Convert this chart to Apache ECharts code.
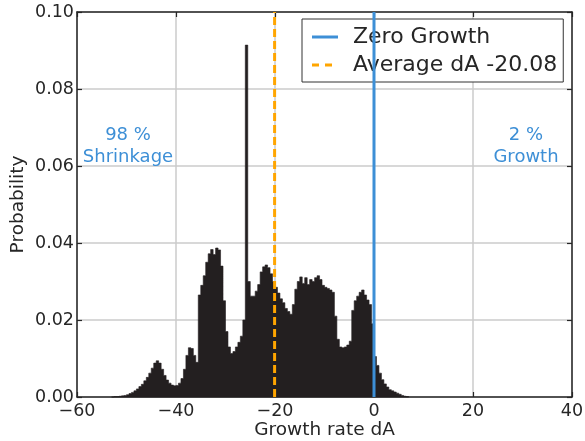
<!DOCTYPE html>
<html>
<head>
<meta charset="utf-8">
<script src="https://cdn.jsdelivr.net/npm/echarts@6/dist/echarts.min.js"></script>
<style>
  html, body { margin: 0; padding: 0; background: #fff; }
  #chart { width: 585px; height: 441px; }
</style>
</head>
<body>
<div id="chart"></div>
<script>
// Histogram of area growth rates: bins of width 0.5 starting at -53
const binStart = -53;
const binWidth = 0.5;
const probability = [
  0.0000, 0.0001, 0.0001, 0.0002, 0.0003, 0.0004, 0.0006, 0.0009, 0.0012, 0.0016,
  0.0021, 0.0027, 0.0033, 0.0042, 0.0051, 0.0062, 0.0075, 0.0088, 0.0094, 0.0088,
  0.0072, 0.0056, 0.0044, 0.0036, 0.0031, 0.0029, 0.0030, 0.0036, 0.0048, 0.0072,
  0.0108, 0.0128, 0.0126, 0.0108, 0.0090, 0.0265, 0.0290, 0.0315, 0.0350, 0.0372,
  0.0383, 0.0370, 0.0387, 0.0382, 0.0340, 0.0250, 0.0170, 0.0130, 0.0113, 0.0118,
  0.0130, 0.0142, 0.0158, 0.0200, 0.0914, 0.0300, 0.0262, 0.0262, 0.0275, 0.0292,
  0.0325, 0.0338, 0.0343, 0.0336, 0.0320, 0.0300, 0.0285, 0.0270, 0.0255, 0.0245,
  0.0230, 0.0222, 0.0215, 0.0240, 0.0280, 0.0300, 0.0312, 0.0295, 0.0310, 0.0292,
  0.0305, 0.0300, 0.0310, 0.0315, 0.0305, 0.0290, 0.0285, 0.0282, 0.0278, 0.0272,
  0.0210, 0.0150, 0.0130, 0.0128, 0.0130, 0.0135, 0.0145, 0.0225, 0.0250, 0.0262,
  0.0272, 0.0278, 0.0265, 0.0252, 0.0240, 0.0190, 0.0105, 0.0082, 0.0062, 0.0045,
  0.0034, 0.0026, 0.0019, 0.0016, 0.0013, 0.0010, 0.0007, 0.0004, 0.0002, 0.0001
];

// Reference lines
const zeroGrowth = 0;
const averageGrowth = -20.08;

// Axis ranges and ticks
const xTicks = [-60, -40, -20, 0, 20, 40];
const yTicks = [0.00, 0.02, 0.04, 0.06, 0.08, 0.10];

// Annotation texts
const shrinkText = '98 %\nShrinkage';
const growthText = '2 %\nGrowth';

const textColor = '#262626';
const blue = '#3d8fd6';
const orange = '#ffa500';
const barColor = '#231f20';
const font = 'DejaVu Sans';

// one row per bin: [left edge, right edge, probability]
const bins = probability.map((p, i) => [binStart + i * binWidth, binStart + (i + 1) * binWidth, p]);

const minus = v => String(v).replace('-', '\u2212');

const xBase = {
  type: 'value',
  min: xTicks[0],
  max: xTicks[xTicks.length - 1],
  interval: xTicks[1] - xTicks[0],
  axisLine: { show: true, onZero: false, lineStyle: { color: textColor, width: 1.5 } },
  axisTick: { show: true, inside: true, length: 5, lineStyle: { color: textColor, width: 1.2 } },
  splitLine: { show: false }
};
const yBase = {
  type: 'value',
  min: yTicks[0],
  max: yTicks[yTicks.length - 1],
  interval: yTicks[1] - yTicks[0],
  axisLine: { show: true, onZero: false, lineStyle: { color: textColor, width: 1.5 } },
  axisTick: { show: true, inside: true, length: 5, lineStyle: { color: textColor, width: 1.2 } },
  splitLine: { show: false }
};

// the whole histogram outline is traced as one filled polygon (drawn with the first item)
function renderHistogram(params, api) {
  if (params.dataIndex !== 0) return null;
  const pts = [api.coord([bins[0][0], 0])];
  bins.forEach(b => {
    pts.push(api.coord([b[0], b[2]]));
    pts.push(api.coord([b[1], b[2]]));
  });
  pts.push(api.coord([bins[bins.length - 1][1], 0]));
  return {
    type: 'polygon',
    shape: { points: pts },
    style: { fill: barColor, stroke: barColor, lineWidth: 0.6 }
  };
}

const option = {
  animation: false,
  backgroundColor: '#ffffff',
  textStyle: { fontFamily: font },
  grid: { left: 77, right: 13, top: 12, bottom: 44, containLabel: false, outerBoundsMode: 'none' },
  xAxis: [
    Object.assign({}, xBase, {
      position: 'bottom',
      name: 'Growth rate dA',
      nameLocation: 'middle',
      nameGap: 24,
      nameMoveOverlap: false,
      nameTextStyle: { fontSize: 18.5, color: textColor, fontFamily: font },
      axisLabel: { fontSize: 17.5, color: textColor, fontFamily: font, margin: 5, formatter: minus },
      splitLine: { show: true, lineStyle: { color: '#cbcbcb', width: 1.5 } }
    }),
    Object.assign({}, xBase, { position: 'top', axisLabel: { show: false } })
  ],
  yAxis: [
    Object.assign({}, yBase, {
      position: 'left',
      name: 'Probability',
      nameLocation: 'middle',
      nameGap: 49,
      nameMoveOverlap: false,
      nameTextStyle: { fontSize: 18.5, color: textColor, fontFamily: font },
      axisLabel: { fontSize: 17.5, color: textColor, fontFamily: font, margin: 3,
                   formatter: v => v.toFixed(2) },
      splitLine: { show: true, lineStyle: { color: '#cbcbcb', width: 1.5 } }
    }),
    Object.assign({}, yBase, { position: 'right', axisLabel: { show: false } })
  ],
  legend: {
    orient: 'vertical',
    left: 302,
    top: 19,
    padding: [7, 6, 6, 10],
    itemGap: 6,
    itemWidth: 26,
    itemHeight: 3,
    borderColor: '#333333',
    borderWidth: 1,
    borderRadius: 0,
    backgroundColor: '#ffffff',
    textStyle: { fontSize: 22, color: textColor, fontFamily: font, padding: [0, 0, 0, 10] },
    data: [
      { name: 'Zero Growth', icon: 'path://M0,0H26V3H0Z', itemStyle: { color: blue } },
      { name: 'Average dA -20.08', icon: 'path://M0,0H7V3H0Z M13,0H20V3H13Z M26,0V3Z',
        itemStyle: { color: orange } }
    ]
  },
  series: [
    {
      name: 'histogram',
      type: 'custom',
      renderItem: renderHistogram,
      encode: { x: [0, 1], y: 2 },
      data: bins,
      z: 3
    },
    {
      name: 'Zero Growth',
      type: 'line',
      symbol: 'none',
      data: [[zeroGrowth, yTicks[0]], [zeroGrowth, yTicks[yTicks.length - 1]]],
      lineStyle: { color: blue, width: 3 },
      itemStyle: { color: blue },
      z: 4
    },
    {
      name: 'Average dA -20.08',
      type: 'line',
      symbol: 'none',
      data: [[averageGrowth, yTicks[0]], [averageGrowth, yTicks[yTicks.length - 1]]],
      lineStyle: { color: orange, width: 3, type: [8, 4] },
      itemStyle: { color: orange },
      z: 4
    }
  ],
  graphic: [
    {
      type: 'text', x: 128, y: 124,
      style: { text: shrinkText, fill: blue, font: '18px "DejaVu Sans"',
               align: 'center', verticalAlign: 'top', lineHeight: 22 },
      z: 10
    },
    {
      type: 'text', x: 526, y: 124,
      style: { text: growthText, fill: blue, font: '18px "DejaVu Sans"',
               align: 'center', verticalAlign: 'top', lineHeight: 22 },
      z: 10
    }
  ]
};

const chart = echarts.init(document.getElementById('chart'), null, { renderer: 'canvas' });
chart.setOption(option);
</script>
</body>
</html>
